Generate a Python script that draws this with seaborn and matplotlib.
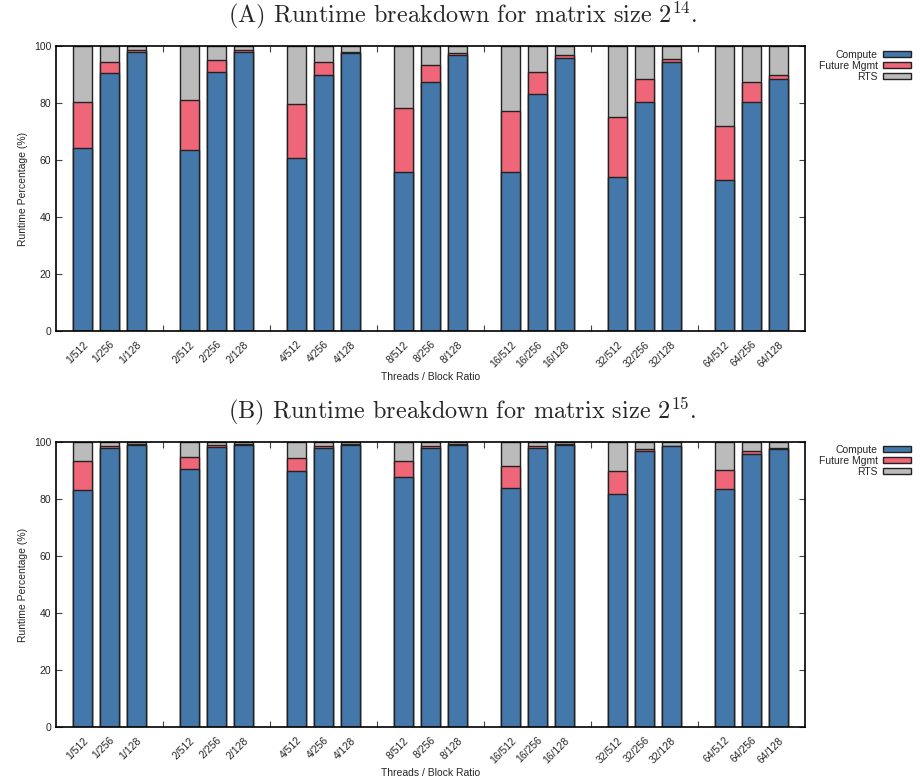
import numpy as np
import pandas as pd
import seaborn as sns
import matplotlib.pyplot as plt
from matplotlib.patches import Patch

# labels: threads / block ratio
threads = ["1", "2", "4", "8", "16", "32", "64"]
ratios = ["512", "256", "128"]
labels = [f"{t}/{r}" for t in threads for r in ratios]

# panel A, matrix size 2^14
compute_a = [64.1, 90.5, 98.0, 63.4, 90.9, 98.0, 60.7, 89.7, 97.4, 55.9, 87.3, 96.7,
             55.7, 83.0, 95.9, 54.0, 80.2, 94.2, 53.0, 80.2, 88.4]
future_a = [16.4, 3.9, 0.6, 17.5, 4.1, 0.6, 18.9, 4.7, 0.6, 22.3, 6.0, 0.7,
            21.5, 8.0, 0.8, 21.2, 8.3, 1.1, 18.9, 7.1, 1.3]
rts_a = [19.5, 5.6, 1.4, 19.1, 5.0, 1.4, 20.4, 5.6, 2.0, 21.8, 6.7, 2.6,
         22.8, 9.0, 3.3, 24.8, 11.5, 4.7, 28.1, 12.7, 10.3]

# panel B, matrix size 2^15
compute_b = [83.3, 98.0, 99.0, 90.6, 98.2, 99.0, 89.8, 98.0, 99.0, 87.6, 97.9, 99.0,
             83.8, 97.7, 99.0, 81.7, 96.7, 98.4, 83.5, 95.6, 97.5]
future_b = [10.0, 0.6, 0.3, 4.1, 0.6, 0.3, 4.6, 0.7, 0.3, 5.8, 0.7, 0.3,
            7.7, 0.8, 0.2, 8.2, 0.8, 0.2, 6.7, 1.1, 0.4]
rts_b = [6.7, 1.4, 0.7, 5.3, 1.2, 0.7, 5.6, 1.3, 0.7, 6.6, 1.4, 0.7,
         8.5, 1.5, 0.8, 10.1, 2.5, 1.4, 9.8, 3.3, 2.1]

c_compute = "#4477AA"
c_future = "#EE6677"
c_rts = "#BBBBBB"

sns.set_theme(style="white")
plt.rcParams['font.family'] = ['Liberation Sans', 'DejaVu Sans']
plt.rcParams['mathtext.fontset'] = 'cm'

# bar slots: 3 bars per group, one empty slot between groups
pos = np.array([4 * g + j + 1 for g in range(len(threads)) for j in range(len(ratios))], dtype=float)


def draw_panel(ax, compute, future, rts):
    compute = np.array(compute)
    future = np.array(future)
    rts = np.array(rts)
    df = pd.DataFrame({"pos": pos,
                       "top_rts": compute + future + rts,
                       "top_future": compute + future,
                       "top_compute": compute})
    # layered stacking: tallest drawn first
    for col, color in [("top_rts", c_rts), ("top_future", c_future), ("top_compute", c_compute)]:
        sns.barplot(data=df, x="pos", y=col, native_scale=True, color=color,
                    saturation=1, width=0.71, edgecolor="#222222", linewidth=1.0, ax=ax)
    ax.set_xlim(0, 28)
    ax.set_ylim(0, 100)
    ax.set_xticks(pos)
    ax.set_xticklabels(labels, rotation=45, ha="right", rotation_mode="anchor", fontsize=7.5)
    ax.set_xticks(np.arange(4, 28, 4), minor=True)
    ax.tick_params(axis="x", which="major", length=0, pad=6)
    ax.tick_params(axis="x", which="minor", direction="in", length=4, width=0.8,
                   top=True, bottom=True, color="#444444")
    ax.set_yticks(np.arange(0, 101, 20))
    ax.tick_params(axis="y", direction="in", length=4, width=0.8, left=True, right=True,
                   labelsize=7.5, color="#444444")
    ax.set_ylabel("Runtime Percentage (%)", fontsize=7.5)
    ax.set_xlabel("Threads / Block Ratio", fontsize=7.5, labelpad=2)
    for s in ax.spines.values():
        s.set_color("black")
        s.set_linewidth(1.2)


fig = plt.figure(figsize=(9.19, 7.79), dpi=100)
ax_a = fig.add_axes([0.0609, 0.5751, 0.8150, 0.3659])
ax_b = fig.add_axes([0.0609, 0.0668, 0.8150, 0.3659])

draw_panel(ax_a, compute_a, future_a, rts_a)
draw_panel(ax_b, compute_b, future_b, rts_b)

fig.text(0.503, 0.980, r"(A) Runtime breakdown for matrix size $2^{14}$.", family="cmr10",
         fontsize=17.5, ha="center", va="center")
fig.text(0.503, 0.472, r"(B) Runtime breakdown for matrix size $2^{15}$.", family="cmr10",
         fontsize=17.5, ha="center", va="center")

handles = [Patch(facecolor=c, edgecolor="#222222", linewidth=1.0) for c in (c_compute, c_future, c_rts)]
names = ["Compute", "Future Mgmt", "RTS"]
for y_top in (0.943, 0.436):
    fig.legend(handles, names, loc="upper right", bbox_to_anchor=(0.997, y_top),
               markerfirst=False, frameon=False, fontsize=7.5, handlelength=2.7,
               handleheight=0.6, labelspacing=0.1, handletextpad=0.5, borderpad=0)

fig.savefig("out.png", dpi=100)
